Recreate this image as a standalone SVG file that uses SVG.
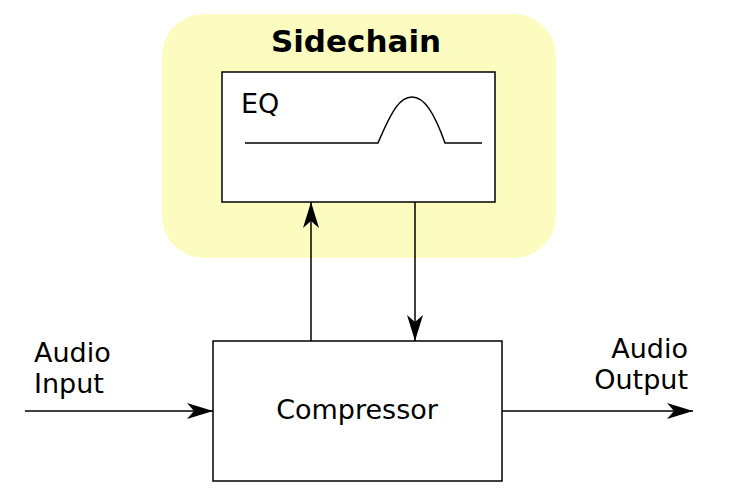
<svg xmlns="http://www.w3.org/2000/svg" width="736" height="504" viewBox="0 0 736 504">
<style>
.box{fill:#fff;stroke:#000;stroke-width:1.5}
.ln{fill:none;stroke:#000;stroke-width:1.5}
.t{font-family:"DejaVu Sans",sans-serif;font-size:27px;fill:#000}
</style>
<defs>
<marker id="ah" viewBox="0 0 26 16" refX="26" refY="8" markerWidth="26" markerHeight="16" markerUnits="userSpaceOnUse" orient="auto">
<path d="M0,0 L26,8 L0,16 L7,8 Z" fill="#000"/>
</marker>
</defs>
<rect width="736" height="504" fill="#fff"/>
<g id="sidechain">
<rect x="162" y="14" width="394" height="244" rx="42" fill="#fcfcc0"/>
<text x="356" y="52" text-anchor="middle" font-family="DejaVu Sans,sans-serif" font-size="31" font-weight="bold">Sidechain</text>
</g>
<g id="eq">
<rect class="box" x="222" y="72" width="273" height="130"/>
<text class="t" x="241" y="113">EQ</text>
<path class="ln" d="M245,143 H378 C392,110 400,97 412,97 C424,97 434,112 445,143 H482"/>
</g>
<g id="compressor">
<rect class="box" x="213" y="341" width="289" height="140"/>
<text class="t" x="357" y="419" text-anchor="middle">Compressor</text>
</g>
<g id="labels">
<text class="t" x="34" y="362">Audio</text>
<text class="t" x="34" y="393">Input</text>
<text class="t" x="688" y="358" text-anchor="end">Audio</text>
<text class="t" x="688" y="389" text-anchor="end">Output</text>
</g>
<g id="connectors">
<line class="ln" x1="25" y1="411" x2="213" y2="411" marker-end="url(#ah)"/>
<line class="ln" x1="502" y1="411" x2="693" y2="411" marker-end="url(#ah)"/>
<line class="ln" x1="311" y1="341" x2="311" y2="202" marker-end="url(#ah)"/>
<line class="ln" x1="415" y1="202" x2="415" y2="341" marker-end="url(#ah)"/>
</g>
</svg>
